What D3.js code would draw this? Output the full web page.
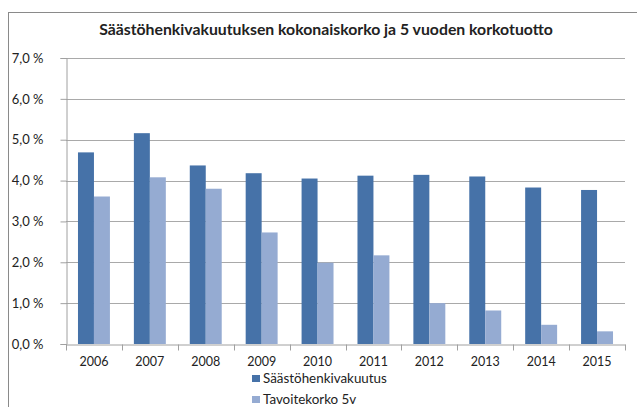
<!DOCTYPE html>
<html>
<head>
<meta charset="utf-8">
<script src="https://cdn.jsdelivr.net/npm/d3@7"></script>
<style>
  body { margin: 0; background: #fff; }
  svg text { font-family: Lato, "Open Sans", sans-serif; fill: #222; }
</style>
</head>
<body>
<div id="chart"></div>
<script>
const years = ["2006", "2007", "2008", "2009", "2010", "2011", "2012", "2013", "2014", "2015"];
const seriesNames = ["Säästöhenkivakuutus", "Tavoitekorko 5v"];
const saasto = [4.69, 5.16, 4.37, 4.18, 4.05, 4.12, 4.14, 4.10, 3.83, 3.77];
const tavoite = [3.61, 4.08, 3.80, 2.73, 1.99, 2.17, 1.00, 0.82, 0.47, 0.31];
const yTicks = [0, 1, 2, 3, 4, 5, 6, 7];
const colors = ["#4672a8", "#95abd2"];

const width = 637, height = 407;
const margin = {left: 66, right: 12, top: 58, bottom: 63};

const svg = d3.select("#chart")
    .append("svg")
    .attr("width", width)
    .attr("height", height);

// outer frame
svg.append("rect")
    .attr("x", 8.5).attr("y", 12.5)
    .attr("width", 700).attr("height", 500)
    .attr("fill", "none")
    .attr("stroke", "#8a8a8a");

svg.append("text")
    .attr("x", 326).attr("y", 35)
    .attr("text-anchor", "middle")
    .attr("font-size", "15.8px")
    .attr("font-weight", "bold")
    .text("Säästöhenkivakuutuksen kokonaiskorko ja 5 vuoden korkotuotto");

const x0 = d3.scaleBand()
    .domain(years)
    .range([margin.left, width - margin.right]);
const x1 = d3.scaleBand()
    .domain(seriesNames)
    .range([0, x0.bandwidth()])
    .paddingOuter(0.75);
const y = d3.scaleLinear()
    .domain([0, 7])
    .range([height - margin.bottom, margin.top]);

// gridlines
svg.append("g")
    .selectAll("line")
    .data(yTicks.slice(1))
    .enter()
    .append("line")
    .attr("x1", margin.left).attr("x2", width - margin.right)
    .attr("y1", d => Math.round(y(d)) + 0.5).attr("y2", d => Math.round(y(d)) + 0.5)
    .attr("stroke", "#a9a9a9");

// y axis
const yAxis = d3.axisLeft(y)
    .tickValues(yTicks)
    .tickSize(6)
    .tickPadding(17)
    .tickFormat(d => d.toFixed(1).replace(".", ",") + " %");
const gy = svg.append("g")
    .attr("transform", `translate(${margin.left + 0.5},0)`)
    .call(yAxis);
gy.selectAll("line, path").attr("stroke", "#a0a0a0");
gy.selectAll("text").attr("font-size", "13px").attr("fill", "#222");

// bars
const rows = years.map((yr, i) => ({year: yr, values: [saasto[i], tavoite[i]]}));
svg.append("g")
    .selectAll("g")
    .data(rows)
    .enter()
    .append("g")
    .attr("transform", d => `translate(${x0(d.year)},0)`)
    .selectAll("rect")
    .data(d => d.values.map((v, j) => ({name: seriesNames[j], v: v, j: j})))
    .enter()
    .append("rect")
    .attr("x", d => x1(d.name))
    .attr("width", x1.bandwidth())
    .attr("y", d => y(d.v))
    .attr("height", d => y(0) - y(d.v))
    .attr("fill", d => colors[d.j]);

// x axis
const xAxis = d3.axisBottom(x0).tickSize(0).tickPadding(13);
const gx = svg.append("g")
    .attr("transform", `translate(0,${Math.round(y(0)) + 0.5})`)
    .call(xAxis);
gx.select("path").attr("stroke", "#a0a0a0");
gx.selectAll("text").attr("font-size", "12.5px").attr("fill", "#222");
gx.selectAll(".sep")
    .data(years.map(yr => x0(yr)).concat([x0.range()[1]]))
    .enter()
    .append("line")
    .attr("x1", d => Math.round(d) + 0.5).attr("x2", d => Math.round(d) + 0.5)
    .attr("y1", 0).attr("y2", 6)
    .attr("stroke", "#a0a0a0");

// legend
const legend = svg.append("g")
    .attr("transform", "translate(252,375)");
const li = legend.selectAll("g")
    .data(seriesNames)
    .enter()
    .append("g")
    .attr("transform", (d, i) => `translate(0,${i * 21})`);
li.append("rect")
    .attr("width", 8).attr("height", 7)
    .attr("fill", (d, i) => colors[i]);
li.append("text")
    .attr("x", 11).attr("y", 8)
    .attr("font-size", "13.4px")
    .text(d => d);
</script>
</body>
</html>
